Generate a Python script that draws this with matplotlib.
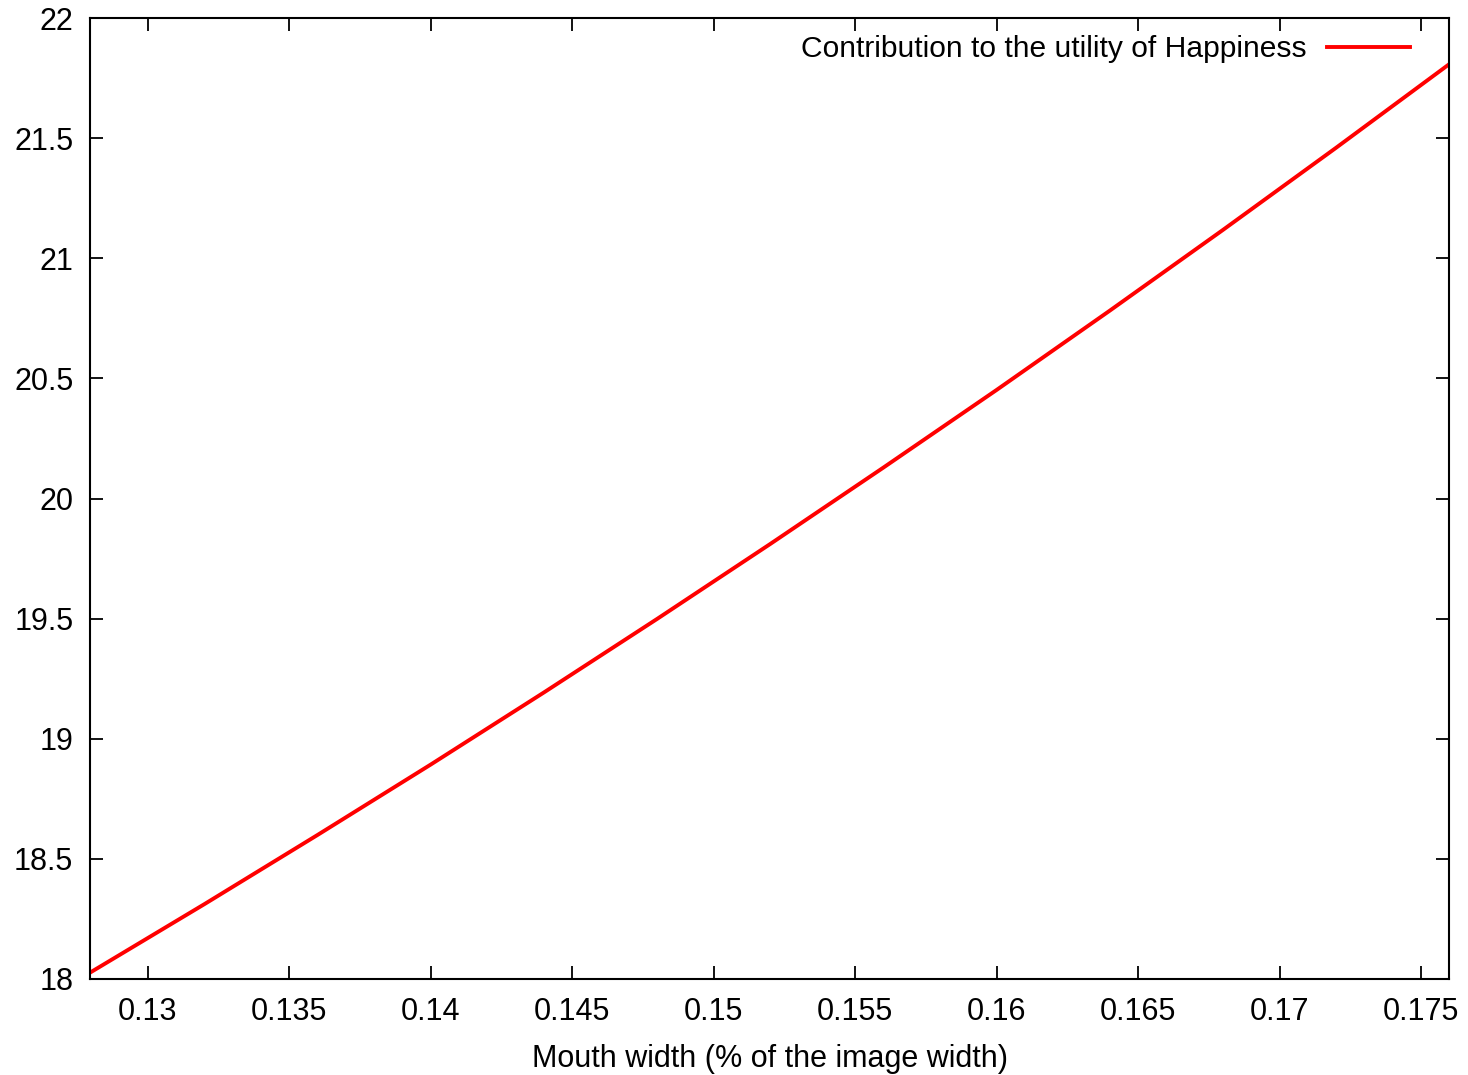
import matplotlib
matplotlib.use('Agg')
import matplotlib.pyplot as plt
import numpy as np

plt.rcParams['font.family'] = ['Liberation Sans', 'DejaVu Sans']

# mouth width vs contribution to utility
mouth_width = [0.128, 0.132, 0.136, 0.140, 0.144, 0.148, 0.152,
               0.156, 0.160, 0.164, 0.168, 0.172, 0.176]
utility = [18.030, 18.312, 18.600, 18.893, 19.193, 19.499, 19.811,
           20.129, 20.452, 20.782, 21.118, 21.460, 21.808]

x_ticks = [0.13, 0.135, 0.14, 0.145, 0.15, 0.155, 0.16, 0.165, 0.17, 0.175]
x_ticklabels = ['0.13', '0.135', '0.14', '0.145', '0.15', '0.155', '0.16', '0.165', '0.17', '0.175']
y_ticks = [18, 18.5, 19, 19.5, 20, 20.5, 21, 21.5, 22]
y_ticklabels = ['18', '18.5', '19', '19.5', '20', '20.5', '21', '21.5', '22']

fig = plt.figure(figsize=(14.68, 10.75), dpi=100)
ax = fig.add_axes([90/1468, 1 - 979/1075, (1449-90)/1468, (979-18)/1075])

ax.plot(mouth_width, utility, color='#ff0000', linewidth=2.8,
        solid_joinstyle='round', label='Contribution to the utility of Happiness')

ax.set_xlim(0.12795, 0.17599)
ax.set_ylim(18, 22)
ax.set_xticks(x_ticks)
ax.set_xticklabels(x_ticklabels)
ax.set_yticks(y_ticks)
ax.set_yticklabels(y_ticklabels)

ax.tick_params(direction='in', length=9.4, width=1.3, labelsize=22,
               top=True, right=True)
ax.tick_params(axis='x', pad=13)
ax.tick_params(axis='y', pad=12)
for s in ax.spines.values():
    s.set_linewidth(1.5)

ax.set_xlabel('Mouth width (% of the image width)', fontsize=22, labelpad=12)

ax.legend(loc='upper right', frameon=False, fontsize=21.6, markerfirst=False,
          handlelength=2.75, handletextpad=0.7,
          bbox_to_anchor=(0.991, 1.010), bbox_transform=ax.transAxes)

fig.savefig('out.png', dpi=100, facecolor='white')
